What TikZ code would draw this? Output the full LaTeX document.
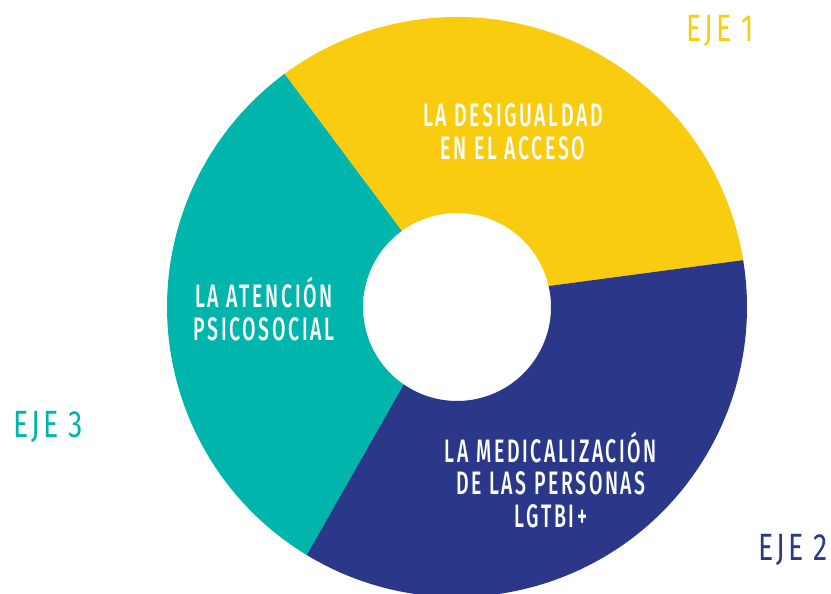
\documentclass[tikz,border=0pt]{standalone}
\usepackage{fontspec}
\setmainfont{Fira Sans Medium}[FakeStretch=0.6, LetterSpace=8]
\newfontfamily\ejefont{Fira Sans}[FakeStretch=0.75, LetterSpace=8]
\usetikzlibrary{calc}
\definecolor{yel}{HTML}{F9CC0F}
\definecolor{tea}{HTML}{00B5AC}
\definecolor{nav}{HTML}{2B388A}
\begin{document}
\begin{tikzpicture}[x=1pt,y=1pt,
  lab/.style={text=white, align=center, inner sep=0pt, font=\fontsize{32.5}{32.5}\selectfont},
  eje/.style={inner sep=0pt, anchor=base west, font=\ejefont\fontsize{38}{40}\selectfont}]
\useasboundingbox (0,0) rectangle (831,594);
\coordinate (c) at (457,287);
% yellow sector
\fill[yel] ($(c)+(9.3:290pt)$) arc[start angle=9.3, end angle=126.5, radius=290pt]
  -- ($(c)+(126:94pt)$) arc[start angle=126, end angle=12.9, radius=94pt] -- cycle;
% teal sector
\fill[tea] ($(c)+(126.5:290pt)$) arc[start angle=126.5, end angle=238.8, radius=290pt]
  -- ($(c)+(235.5:94pt)$) arc[start angle=235.5, end angle=126, radius=94pt] -- cycle;
% navy sector
\fill[nav] ($(c)+(238.8:290pt)$) arc[start angle=238.8, end angle=369.3, radius=290pt]
  -- ($(c)+(372.9:94pt)$) arc[start angle=372.9, end angle=235.5, radius=94pt] -- cycle;
% labels
\node[lab] (t1) at (513,462) {LA DESIGUALDAD\\EN EL ACCESO};
\node[lab] (t3) at (264,285) {LA ATENCIÓN\\PSICOSOCIAL};
\node[lab] (t2) at (551,114) {LA MEDICALIZACIÓN\\DE LAS PERSONAS\\LGTBI+};
\node[eje, text=yel] (e1) at (686,552) {EJE 1};
\node[eje, text=nav] (e2) at (758,33) {EJE 2};
\node[eje, text=tea] (e3) at (13,156) {EJE 3};
\end{tikzpicture}
\end{document}
